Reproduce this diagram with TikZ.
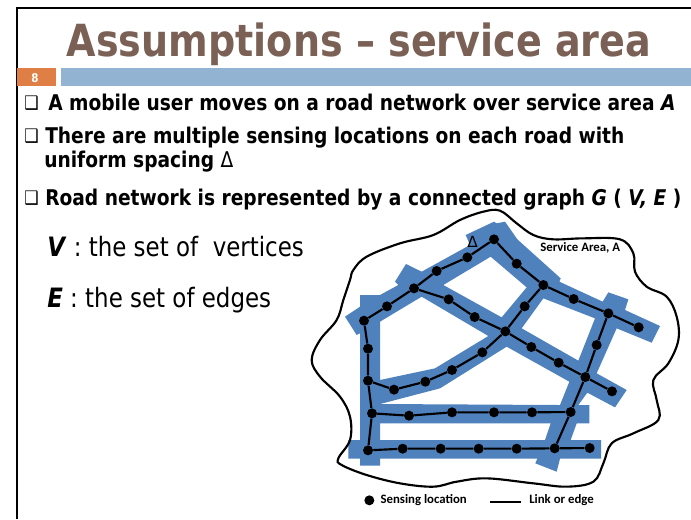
\documentclass[tikz,border=0pt]{standalone}
\usepackage{fontspec}
\setmainfont{DejaVu Sans}
\newfontfamily\tf[FakeStretch=0.86]{DejaVu Sans}
\newfontfamily\lf{Carlito}
\definecolor{road}{HTML}{4F81BD}
\definecolor{titlec}{HTML}{7B6155}
\definecolor{barc}{HTML}{92B4D2}
\definecolor{orangec}{HTML}{E07F45}
\tikzset{
  dot/.style={circle,fill=black,draw=none,minimum size=10*0.75pt,inner sep=0pt},
  link/.style={draw=black,line width=1.6pt,line join=round},
  body/.style={anchor=base west,inner sep=0pt,font=\tf\bfseries\fontsize{16.25pt}{18pt}\selectfont},
  boxglyph/.style={anchor=base west,inner sep=0pt,font=\tf\bfseries\fontsize{14pt}{18pt}\selectfont},
  plain/.style={anchor=base west,inner sep=0pt,font=\tf\fontsize{20pt}{22pt}\selectfont},
  lab/.style={anchor=base west,inner sep=0pt,font=\lf\bfseries\fontsize{9.6pt}{11pt}\selectfont},
}
\begin{document}
\begin{tikzpicture}[x=0.75pt,y=-0.75pt]
\useasboundingbox (0,0) rectangle (691,519);
\fill[white] (0,0) rectangle (691,519);
% slide frame
\coordinate (fa) at (17,519); \coordinate (fb) at (17,8); \coordinate (fc) at (691,8);
\draw[black,line width=1.6pt] (fa) -- (fb) -- (fc);
% header
\node[anchor=base,inner sep=0pt,text=titlec,font=\tf\bfseries\fontsize{33.2pt}{36pt}\selectfont] (title) at (359,56) {Assumptions – service area};
\fill[orangec] (17,68) rectangle (56,86);
\fill[barc] (61,68) rectangle (691,86);
\node[anchor=center,inner sep=0pt,text=white,font=\tf\bfseries\fontsize{9pt}{10pt}\selectfont] (num) at (35,78) {8};
% bullets
\node[boxglyph] (t1b) at (24,109) {❑};
\node[body] (t1) at (48,110) {A mobile user moves on a road network over service area \textit{A}};
\node[boxglyph] (t2b) at (24,142) {❑};
\node[body] (t2) at (45,143) {There are multiple sensing locations on each road with};
\node[body] (t3) at (44,167) {uniform spacing {\mdseries Δ}};
\node[boxglyph] (t4b) at (24,204) {❑};
\node[body] (t4) at (45,205) {Road network is represented by a connected graph \textit{G} ( \textit{V,} \textit{E} )};
\node[plain] (v) at (47,256) {\textbf{\textit{V}} : the set of\ \ vertices};
\node[plain] (e) at (47,307) {\textbf{\textit{E}} : the set of edges};
\begin{scope}[x=0.25pt,y=-0.25pt,shift={(900,600)}]
% roads
\fill[road,even odd rule]
 (180,285)--(240,285)--(295,255)--(285,245)--(318,192)--(365,215)--(510,135)--(497,105)--(582,65)--(590,70)--(615,65)--(652,118)--(782,235)--(778,245)--(908,305)--(925,277)--(985,298)--(975,330)--(1080,378)--(1055,428)--(950,385)--(890,520)--(980,570)--(945,622)--(862,578)--(835,615)--(868,615)--(868,670)--(830,670)--(812,720)--(903,720)--(903,776)--(780,776)--(770,815)--(706,790)--(712,776)--(240,776)--(240,797)--(180,797)--(180,776)--(145,776)--(145,720)--(180,720)--(180,400)--(170,405)--(135,350)--(180,320)--cycle
 (430,255)--(572,170)--(680,262)--(605,352)--cycle
 (240,365)--(365,290)--(565,408)--(405,505)--(240,540)--cycle
 (730,295)--(885,355)--(835,482)--(665,385)--cycle
 (240,612)--(420,565)--(620,440)--(808,545)--(780,615)--cycle
 (240,670)--(752,670)--(735,720)--(240,720)--cycle;
% service area
\draw[black,line width=1.6pt] plot[smooth cycle,tension=0.6] coordinates {
 (160,210)(200,170)(300,130)(400,105)(480,60)(550,35)(600,32)(650,70)(700,105)(760,118)(850,115)(960,118)(1000,160)(1005,215)(1040,260)(1100,290)(1130,350)(1135,420)(1105,490)(1060,540)(1070,600)(1075,660)(1000,700)(935,730)(910,790)(880,845)(800,860)(700,850)(560,835)(470,845)(400,860)(300,850)(200,825)(125,795)(115,775)(150,720)(150,650)(120,590)(60,530)(35,480)(60,420)(110,360)(130,300)(150,240)};
% sensing locations
\node[dot] (top) at (582,118) {};
\node[dot] (a1) at (502,172) {};
\node[dot] (a2) at (410,213) {};
\node[dot] (J) at (342,265) {};
\node[dot] (b1) at (261,319) {};
\node[dot] (L1) at (192,362) {};
\node[dot] (L2) at (204,446) {};
\node[dot] (L3) at (204,542) {};
\node[dot] (L4) at (216,640) {};
\node[dot] (L5) at (204,751) {};
\node[dot] (c1) at (282,569) {};
\node[dot] (c2) at (376,545) {};
\node[dot] (c3) at (456,510) {};
\node[dot] (c4) at (547,457) {};
\node[dot] (X) at (616,394) {};
\node[dot] (d1) at (446,298) {};
\node[dot] (d2) at (524,351) {};
\node[dot] (e1) at (694,441) {};
\node[dot] (e2) at (776,488) {};
\node[dot] (R) at (856,531) {};
\node[dot] (Rend) at (936,574) {};
\node[dot] (f1) at (674,319) {};
\node[dot] (T) at (730,255) {};
\node[dot] (g) at (650,191) {};
\node[dot] (h) at (821,297) {};
\node[dot] (U) at (925,340) {};
\node[dot] (Uend) at (1016,382) {};
\node[dot] (i) at (890,435) {};
\node[dot] (M) at (812,636) {};
\node[dot] (m1) at (696,637) {};
\node[dot] (m2) at (582,637) {};
\node[dot] (m3) at (456,637) {};
\node[dot] (m4) at (327,647) {};
\node[dot] (B) at (764,745) {};
\node[dot] (b2) at (650,746) {};
\node[dot] (b3) at (536,746) {};
\node[dot] (b4) at (422,746) {};
\node[dot] (b5) at (308,746) {};
\node[dot] (Bend) at (869,744) {};
% links
\draw[link] (L5)--(L4)--(L3)--(L2)--(L1)--(b1)--(J)--(a2)--(a1)--(top)--(g)--(T)--(h)--(U)--(Uend);
\draw[link] (J)--(d1)--(d2)--(X)--(e1)--(e2)--(R)--(Rend);
\draw[link] (T)--(f1)--(X)--(c4)--(c3)--(c2)--(c1)--(L3);
\draw[link] (U)--(i)--(R)--(M)--(B);
\draw[link] (L4)--(m4)--(m3)--(m2)--(m1)--(M);
\draw[link] (L5)--(b5)--(b4)--(b3)--(b2)--(B)--(Bend);
% labels
\node[inner sep=0pt,font=\fontsize{11.5pt}{13pt}\selectfont] (delta) at (518,127) {Δ};
\node[lab] (sa) at (720,154) {Service Area, A};
\node[dot] (ld) at (208,901) {};
\node[lab] (ls) at (241,909) {Sensing location};
\coordinate (la) at (570,905); \coordinate (lb) at (662,905);
\draw[link,line width=1.3pt] (la) -- (lb);
\node[lab] (ll) at (687,911) {Link or edge};
\end{scope}
\end{tikzpicture}
\end{document}
